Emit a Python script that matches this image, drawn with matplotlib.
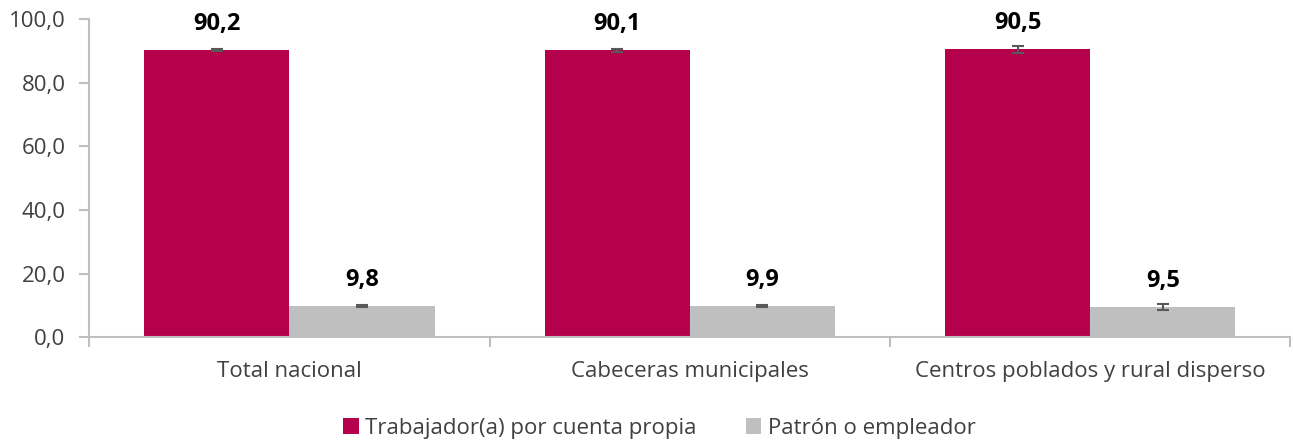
import matplotlib

matplotlib.use("Agg")
import matplotlib.pyplot as plt
import numpy as np
from matplotlib.ticker import FuncFormatter

plt.rcParams["font.family"] = ["Open Sans", "DejaVu Sans"]

# Data
categories = ["Total nacional", "Cabeceras municipales", "Centros poblados y rural disperso"]
series_names = ["Trabajador(a) por cuenta propia", "Patrón o empleador"]
cuenta_propia = [90.2, 90.1, 90.5]
patron = [9.8, 9.9, 9.5]
err_cuenta_propia = [0.3, 0.6, 1.1]
err_patron = [0.3, 0.4, 0.9]

COLORS = ["#B5004B", "#BFBFBF"]
AXIS_COLOR = "#BFBFBF"
TEXT_COLOR = "#404040"

fig, ax = plt.subplots(figsize=(12.93, 4.41), dpi=100)
fig.subplots_adjust(left=0.069, right=0.998, top=0.957, bottom=0.235)

x = np.arange(len(categories))
width = 0.3625

for i, (vals, errs) in enumerate([(cuenta_propia, err_cuenta_propia), (patron, err_patron)]):
    pos = x + (i - 0.5) * width
    ax.bar(pos, vals, width=width, color=COLORS[i], label=series_names[i], zorder=2)
    ax.errorbar(pos, vals, yerr=errs, fmt="none", ecolor="#595959",
                elinewidth=1.5, capsize=4, capthick=1.5, zorder=3)
    for p, v in zip(pos, vals):
        ax.text(p, v + 4.5, f"{v:.1f}".replace(".", ","), ha="center", va="bottom",
                fontsize=17, fontweight="bold", color="black")

ax.set_xlim(-0.5, len(categories) - 0.5)
ax.set_ylim(0, 100)
ax.set_yticks(np.arange(0, 101, 20))
ax.yaxis.set_major_formatter(FuncFormatter(lambda v, p: f"{v:.1f}".replace(".", ",")))

# category labels centred, ticks at category boundaries
ax.set_xticks(x)
ax.set_xticklabels(categories, fontsize=16, color=TEXT_COLOR)
ax.tick_params(axis="x", which="major", length=0, pad=17)
ax.set_xticks(np.arange(-0.5, len(categories)), minor=True)
ax.tick_params(axis="x", which="minor", length=7, width=1.5, color=AXIS_COLOR, direction="out")
ax.tick_params(axis="y", labelsize=16, labelcolor=TEXT_COLOR, length=7, width=1.5,
               color=AXIS_COLOR, direction="out", pad=10)

for side in ["top", "right"]:
    ax.spines[side].set_visible(False)
for side in ["left", "bottom"]:
    ax.spines[side].set_color(AXIS_COLOR)
    ax.spines[side].set_linewidth(1.5)

leg = fig.legend(loc="lower center", bbox_to_anchor=(0.51, -0.04), ncol=2, frameon=False,
                 fontsize=16, handlelength=0.7, handleheight=0.7, handletextpad=0.3,
                 columnspacing=2.2)
for t in leg.get_texts():
    t.set_color(TEXT_COLOR)

plt.savefig("out.png", dpi=100)
